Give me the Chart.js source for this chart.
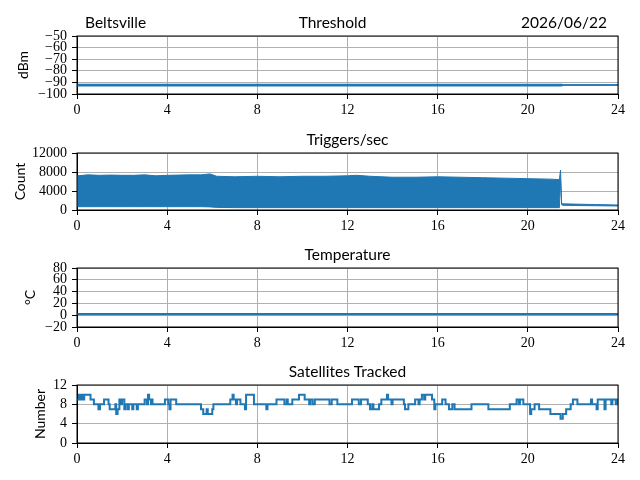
<!DOCTYPE html>
<html>
<head>
<meta charset="utf-8">
<script src="https://cdn.jsdelivr.net/npm/chart.js@4.4.1/dist/chart.umd.min.js"></script>
<style>
  body { margin: 0; background: #fff; }
  #wrap { position: relative; width: 640px; height: 480px; }
  canvas { position: absolute; left: 0; }
</style>
</head>
<body>
<div id="wrap">
  <canvas id="thr" width="640" height="118" style="top:0px"></canvas>
  <canvas id="trig" width="640" height="117" style="top:117px"></canvas>
  <canvas id="temp" width="640" height="119" style="top:232px"></canvas>
  <canvas id="sats" width="640" height="118" style="top:349px"></canvas>
</div>
<script>
// x axis: hours of the day
const xTicks = [0, 4, 8, 12, 16, 20, 24];

// Threshold (dBm): noisy band until ~21.5 h, then a steady line
const thrHours = [0, 21.5, 21.5, 24];
const thrHigh  = [-91.8, -91.8, -92.2, -92.2];
const thrLow   = [-92.9, -92.9, -92.2, -92.2];

// Triggers/sec envelope (upper and lower edge of the dense trace)
const trigHours = [0, 0.5, 1, 1.5, 2, 2.5, 3, 3.5, 4, 4.5, 5, 5.5, 5.9, 6.2, 7, 8, 9, 10, 11, 12, 12.4, 13, 14, 15, 16, 17, 18, 19, 20, 21, 21.4, 21.45, 21.5, 21.55, 22, 23, 24];
const trigHigh  = [7200, 7400, 7300, 7350, 7300, 7300, 7400, 7200, 7300, 7350, 7400, 7400, 7600, 7100, 7000, 7100, 7000, 7100, 7100, 7200, 7300, 7100, 6900, 6900, 7000, 6900, 6800, 6700, 6600, 6500, 6400, 8400, 1300, 1300, 1250, 1150, 1050];
const trigLow   = [700, 700, 700, 700, 700, 700, 700, 700, 700, 700, 700, 700, 650, 550, 500, 500, 500, 500, 500, 500, 500, 500, 500, 500, 500, 500, 500, 500, 500, 500, 500, 6400, 1100, 1000, 950, 900, 850];

// Temperature (deg C)
const tempHours = [0, 24];
const tempHigh  = [2.3, 2.3];
const tempLow   = [1.3, 1.3];

// Satellites tracked: step changes [hour, count]
const satHours = [0, 0.08, 0.14, 0.2, 0.26, 0.32, 0.6, 0.75, 0.95, 1.02, 1.2, 1.4, 1.45, 1.7, 1.74, 1.8, 1.88, 1.95, 2.0, 2.1, 2.15, 2.25, 2.3, 2.45, 2.5, 2.65, 2.7, 3.0, 3.1, 3.15, 3.2, 3.28, 3.3, 3.35, 3.9, 4.05, 4.1, 4.15, 4.4, 5.5, 5.6, 5.75, 5.8, 6.0, 6.05, 6.8, 6.9, 6.95, 7.05, 7.1, 7.25, 7.45, 7.5, 7.85, 8.4, 8.45, 8.85, 9.2, 9.3, 9.35, 9.55, 9.85, 10.1, 10.3, 10.35, 10.45, 10.55, 11.2, 11.3, 11.55, 12.2, 12.5, 12.6, 12.9, 13.0, 13.1, 13.15, 13.4, 13.5, 13.75, 13.8, 13.95, 14.0, 14.5, 14.55, 14.7, 15.0, 15.15, 15.2, 15.3, 15.4, 15.45, 15.75, 15.85, 15.9, 16.2, 16.35, 16.5, 16.65, 16.75, 17.5, 18.25, 19.2, 19.5, 19.6, 19.65, 19.8, 20.1, 20.15, 20.3, 20.5, 21.0, 21.45, 21.55, 21.7, 21.9, 22.0, 22.2, 22.8, 22.85, 23.05, 23.1, 23.4, 23.45, 23.7, 23.75, 23.9, 23.95, 24];
const satCount = [9, 10, 9, 10, 9, 10, 9, 8, 7, 8, 9, 8, 7, 8, 6, 7, 9, 8, 9, 7, 8, 7, 8, 7, 8, 7, 8, 9, 8, 10, 9, 8, 9, 8, 9, 8, 7, 9, 8, 7, 6, 7, 6, 7, 8, 9, 10, 9, 8, 9, 8, 7, 10, 8, 7, 8, 9, 8, 9, 8, 9, 10, 9, 8, 9, 8, 9, 8, 9, 8, 9, 8, 9, 8, 7, 8, 7, 8, 9, 10, 9, 8, 9, 8, 7, 8, 9, 8, 9, 10, 9, 10, 9, 7, 8, 9, 8, 7, 8, 7, 8, 7, 8, 9, 8, 9, 8, 6, 7, 8, 7, 6, 5, 6, 7, 8, 9, 8, 9, 8, 7, 9, 7, 9, 8, 9, 8, 9, 9];

const blue = '#1f77b4';
const tickFont = { family: '"Liberation Serif", serif', size: 14 };
const labelFont = { family: 'Lato, sans-serif', size: 14 };
const titleFont = '15.5px Lato, sans-serif';

const pts = (xs, ys) => xs.map((x, i) => ({ x: x, y: ys[i] }));
const minus = v => String(v).replace('-', '\u2212');

// box round the plot area and the titles above it
const framePlugin = {
  id: 'frame',
  afterDraw(chart, args, opts) {
    const { ctx, chartArea: a } = chart;
    ctx.save();
    ctx.strokeStyle = '#000';
    ctx.lineWidth = 1;
    ctx.strokeRect(a.left, a.top, a.right - a.left, a.bottom - a.top);
    ctx.fillStyle = '#000';
    ctx.font = titleFont;
    ctx.textBaseline = 'alphabetic';
    (opts.texts || []).forEach(t => {
      ctx.textAlign = t.align;
      let x = (a.left + a.right) / 2;
      if (t.align === 'left') x = a.left;
      if (t.align === 'right') x = a.right;
      ctx.fillText(t.text, x + (t.dx || 0), a.top - 8);
    });
    ctx.restore();
  }
};

function makeChart(id, datasets, yMin, yMax, yStep, yLabel, labelPad, padTop, texts) {
  return new Chart(document.getElementById(id), {
    type: 'line',
    data: { datasets: datasets },
    options: {
      responsive: false,
      animation: false,
      devicePixelRatio: 1,
      layout: { padding: { top: padTop, right: 22, left: 0, bottom: 0 } },
      elements: { point: { radius: 0 } },
      plugins: { legend: { display: false }, tooltip: { enabled: false }, frame: { texts: texts } },
      scales: {
        x: {
          type: 'linear', min: 0, max: 24,
          afterBuildTicks: s => { s.ticks = xTicks.map(v => ({ value: v })); },
          afterFit: s => { s.height = 24; },
          grid: { color: '#b0b0b0', tickColor: '#000', tickLength: 5 },
          border: { color: '#000' },
          ticks: { color: '#000', font: tickFont, padding: 3, maxRotation: 0, autoSkip: false }
        },
        y: {
          min: yMin, max: yMax,
          ticks: { stepSize: yStep, color: '#000', font: tickFont, padding: 5, autoSkip: false, callback: v => minus(v) },
          afterFit: s => { s.width = 77; },
          grid: { color: '#b0b0b0', tickColor: '#000', tickLength: 5 },
          border: { color: '#000' },
          title: { display: true, text: yLabel, color: '#000', font: labelFont, padding: { top: labelPad, bottom: 0 } }
        }
      }
    },
    plugins: [framePlugin]
  });
}

function band(xs, lo, hi, width) {
  return [
    { data: pts(xs, lo), borderColor: blue, borderWidth: width, fill: false },
    { data: pts(xs, hi), borderColor: blue, borderWidth: width, backgroundColor: blue, fill: '-1' }
  ];
}

makeChart('thr', band(thrHours, thrLow, thrHigh, 1.5), -100, -50, 10, 'dBm', 15, 36, [
  { text: 'Beltsville', align: 'left', dx: 8 },
  { text: 'Threshold', align: 'center', dx: -15 },
  { text: '2026/06/22', align: 'right', dx: -11 }
]);

makeChart('trig', band(trigHours, trigLow, trigHigh, 1), 0, 12000, 4000, 'Count', 12, 36, [
  { text: 'Triggers/sec', align: 'center' }
]);

makeChart('temp', band(tempHours, tempLow, tempHigh, 1.5), -20, 80, 20, '\u00b0C', 22, 36, [
  { text: 'Temperature', align: 'center' }
]);

makeChart('sats', [
  { data: pts(satHours, satCount), borderColor: blue, borderWidth: 2, stepped: true, fill: false }
], 0, 12, 4, 'Number', 32, 36, [
  { text: 'Satellites Tracked', align: 'center' }
]);
</script>
</body>
</html>
